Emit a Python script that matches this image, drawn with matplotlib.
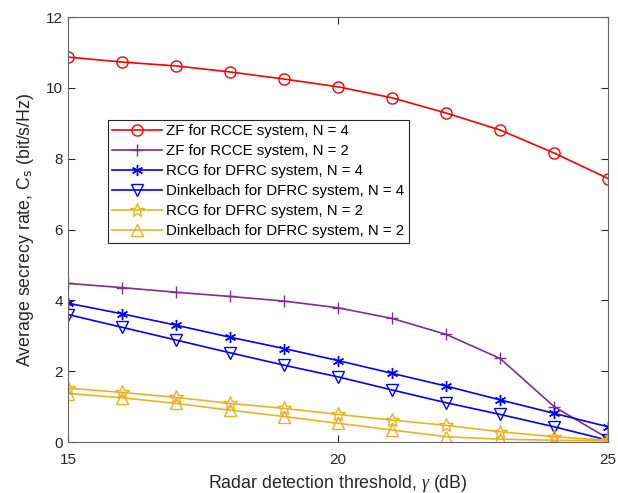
import matplotlib.pyplot as plt

plt.rcParams["font.family"] = ["Liberation Sans", "DejaVu Sans"]
plt.rcParams["mathtext.fontset"] = "custom"
plt.rcParams["mathtext.it"] = "Liberation Serif:italic"

# 雷达检测门限 (dB)
gamma_db = [15, 16, 17, 18, 19, 20, 21, 22, 23, 24, 25]

# 各方案的平均保密速率 (bit/s/Hz)
zf_rcce_n4 = [10.87, 10.73, 10.62, 10.45, 10.25, 10.03, 9.72, 9.29, 8.81, 8.16, 7.44]
zf_rcce_n2 = [4.48, 4.36, 4.23, 4.11, 3.98, 3.79, 3.49, 3.04, 2.36, 1.0, 0.1]
rcg_dfrc_n4 = [3.92, 3.62, 3.30, 2.96, 2.64, 2.30, 1.94, 1.58, 1.19, 0.81, 0.43]
dink_dfrc_n4 = [3.60, 3.24, 2.88, 2.52, 2.17, 1.84, 1.47, 1.11, 0.78, 0.43, 0.05]
rcg_dfrc_n2 = [1.52, 1.40, 1.26, 1.09, 0.95, 0.78, 0.62, 0.47, 0.29, 0.15, 0.05]
dink_dfrc_n2 = [1.37, 1.25, 1.09, 0.90, 0.72, 0.53, 0.34, 0.15, 0.08, 0.05, 0.03]

labels = [
    "ZF for RCCE system, N = 4",
    "ZF for RCCE system, N = 2",
    "RCG for DFRC system, N = 4",
    "Dinkelbach for DFRC system, N = 4",
    "RCG for DFRC system, N = 2",
    "Dinkelbach for DFRC system, N = 2",
]

red = "#ff0000"
purple = "#7e2f8e"
blue = "#0000ff"
yellow = "#edb120"
axis_gray = "#262626"

fig = plt.figure(figsize=(6.18, 4.93), dpi=100)
ax = fig.add_axes([0.110, 0.1034, 0.874, 0.862])

ax.plot(gamma_db, zf_rcce_n4, color=red, marker="o", mfc="none", ms=8, lw=1.2, label=labels[0])
ax.plot(gamma_db, zf_rcce_n2, color=purple, marker="+", ms=9, lw=1.2, label=labels[1])
ax.plot(gamma_db, rcg_dfrc_n4, color=blue, marker=(6, 2, 0), ms=8, lw=1.2, label=labels[2])
ax.plot(gamma_db, dink_dfrc_n4, color=blue, marker="v", mfc="none", ms=9, lw=1.2, label=labels[3])
ax.plot(gamma_db, rcg_dfrc_n2, color=yellow, marker="*", mfc="none", ms=10, lw=1.2, label=labels[4])
ax.plot(gamma_db, dink_dfrc_n2, color=yellow, marker="^", mfc="none", ms=9, lw=1.2, label=labels[5])

ax.set_xlim(15, 25)
ax.set_ylim(0, 12)
ax.set_xticks([15, 20, 25])
ax.set_yticks(range(0, 13, 2))
ax.tick_params(direction="in", top=True, right=True, labelsize=11, colors=axis_gray, length=5)
ax.tick_params(axis="x", pad=8)
for spine in ax.spines.values():
    spine.set_color("#666666")
    spine.set_linewidth(0.8)

ax.set_xlabel(r"Radar detection threshold, $\gamma$ (dB)", fontsize=12.8, color=axis_gray, labelpad=4)
ax.set_ylabel(r"Average secrecy rate, C$_\mathrm{s}$ (bit/s/Hz)", fontsize=12.8, color=axis_gray, labelpad=7)

leg = ax.legend(loc="upper left", bbox_to_anchor=(0.074, 0.758), fontsize=10.8,
                fancybox=False, edgecolor=axis_gray, framealpha=1,
                handlelength=3.3, borderpad=0.3, labelspacing=0.4, handletextpad=0.3,
                borderaxespad=0)
leg.get_frame().set_linewidth(0.8)

fig.savefig("out.png", dpi=100)
